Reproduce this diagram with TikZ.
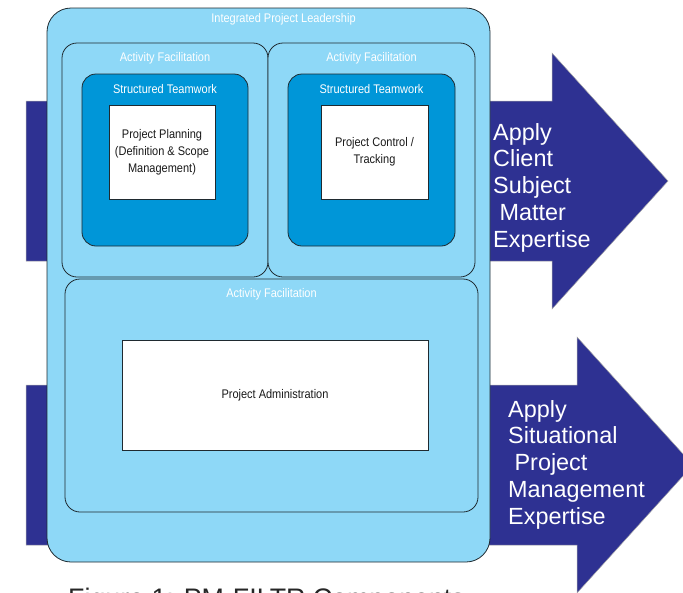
\documentclass[tikz,border=0pt]{standalone}
\usepackage{fontspec}
\setmainfont{Liberation Sans}
\newfontfamily\narrowsf{Liberation Sans}[FakeStretch=0.88]
\usetikzlibrary{positioning}

\definecolor{pmnavy}{HTML}{2E3192}
\definecolor{pmlight}{HTML}{8ED8F7}
\definecolor{pmmid}{HTML}{0096D8}
\definecolor{pmline}{HTML}{1F2A30}

\tikzset{
  panel/.style={draw=pmline, line width=0.8pt, anchor=north west, inner sep=0pt, outer sep=0pt},
  facil/.style={panel, fill=pmlight, rounded corners=15pt},
  team/.style={panel, fill=pmmid, rounded corners=14pt},
  task/.style={panel, fill=white, align=center, text=black!90,
    font=\narrowsf\fontsize{12.5}{17}\selectfont},
  paneltitle/.style={inner sep=0pt, text=white, text height=9pt, text depth=2.5pt,
    font=\narrowsf\fontsize{12.5}{15}\selectfont},
  bigarrow/.style={fill=pmnavy, draw=black!35, line width=0.5pt},
  arrowtext/.style={anchor=north west, inner sep=0pt, align=left, text=white,
    font=\fontsize{23.4}{26.8}\selectfont}
}

\begin{document}
\begin{tikzpicture}[x=1pt,y=1pt]
        \useasboundingbox (0,0) rectangle (683,-592);
        \clip (0,0) rectangle (683,-592);

        % Expertise arrows (behind the panels)
        \filldraw[bigarrow] (26,-101) -- (552,-101) -- (552,-53) -- (668,-181) -- (552,-309) -- (552,-261) -- (26,-261) -- cycle;
        \filldraw[bigarrow] (26,-385) -- (577,-385) -- (577,-337) -- (693,-465) -- (577,-593) -- (577,-545) -- (26,-545) -- cycle;
        \node[arrowtext] (client) at (493,-123) {Apply\\Client\\Subject\\\hspace*{6.4pt}Matter\\Expertise};
        \node[arrowtext] (situ) at (508,-400) {Apply\\Situational\\\hspace*{6.4pt}Project\\Management\\Expertise};

        % Integrated Project Leadership
        \node[panel, fill=pmlight, rounded corners=24pt, minimum width=443pt, minimum height=554pt] (ipl) at (47,-8) {};
        \node[paneltitle, below=5.25pt of ipl.north, xshift=15pt] (ipl-t) {Integrated Project Leadership};

        % Activity Facilitation panels
        \node[facil, minimum width=206pt, minimum height=234pt] (af-l) at (62,-43) {};
        \node[facil, minimum width=207pt, minimum height=234pt] (af-r) at (268,-43) {};
        \node[facil, minimum width=413pt, minimum height=233pt] (af-b) at (65,-279) {};
        \node[paneltitle, below=9.25pt of af-l.north] (af-l-t) {Activity Facilitation};
        \node[paneltitle, below=9.25pt of af-r.north] (af-r-t) {Activity Facilitation};
        \node[paneltitle, below=9.25pt of af-b.north] (af-b-t) {Activity Facilitation};

        % Structured Teamwork panels
        \node[team, minimum width=166pt, minimum height=172pt] (st-l) at (82,-74) {};
        \node[team, minimum width=167pt, minimum height=172pt] (st-r) at (288,-74) {};
        \node[paneltitle, below=10.25pt of st-l.north] (st-l-t) {Structured Teamwork};
        \node[paneltitle, below=10.25pt of st-r.north] (st-r-t) {Structured Teamwork};

        % Tasks
        \node[task, minimum width=106pt, minimum height=94pt] (plan) at (109,-105) {Project Planning\\(Definition \& Scope\\Management)};
        \node[task, minimum width=107pt, minimum height=94pt] (control) at (321,-105) {Project Control /\\Tracking};
        \node[task, minimum width=306pt, minimum height=110pt] (admin) at (122,-340) {Project Administration};

        % Caption (cut by the page edge)
        \node[anchor=base west, inner sep=0pt, text=black!85, font=\fontsize{26.8}{30}\selectfont] (caption) at (68,-607.5) {Figure 1: PM-FILTR Components};
\end{tikzpicture}
\end{document}
